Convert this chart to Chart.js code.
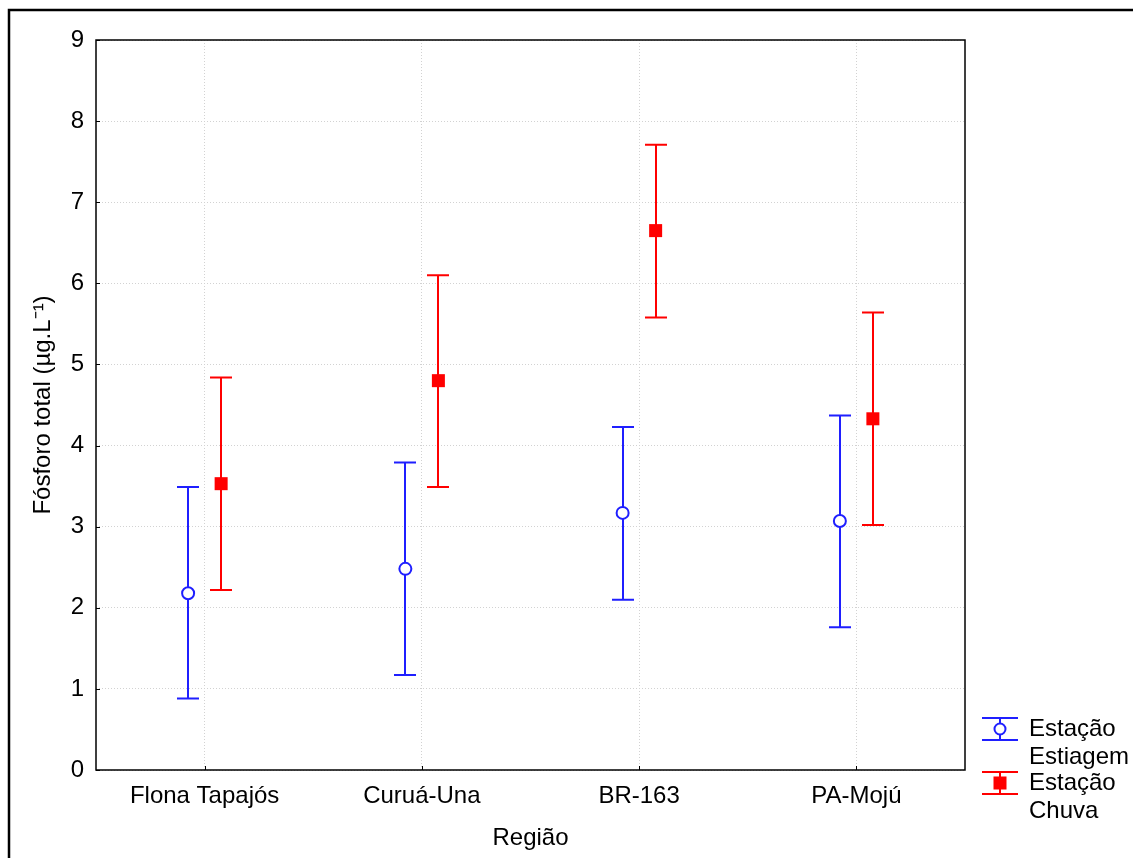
<!DOCTYPE html>
<html>
<head>
<meta charset="utf-8">
<script src="https://cdn.jsdelivr.net/npm/chart.js@4.4.1/dist/chart.umd.min.js"></script>
<style>
  html, body { margin: 0; padding: 0; background: #fff; }
  #wrap { width: 1133px; height: 858px; position: relative; }
</style>
</head>
<body>
<div id="wrap"><canvas id="chart" width="1133" height="858"></canvas></div>
<script>
// Regions along the x axis
const regions = ['Flona Tapajós', 'Curuá-Una', 'BR-163', 'PA-Mojú'];
const yTicks = [0, 1, 2, 3, 4, 5, 6, 7, 8, 9];

// Dry season: mean and interval limits
const estiagemMean = [2.18, 2.48, 3.17, 3.07];
const estiagemLow = [0.88, 1.17, 2.10, 1.76];
const estiagemHigh = [3.49, 3.79, 4.23, 4.37];

// Rainy season: mean and interval limits
const chuvaMean = [3.53, 4.80, 6.65, 4.33];
const chuvaLow = [2.22, 3.49, 5.58, 3.02];
const chuvaHigh = [4.84, 6.10, 7.71, 5.64];

const BLUE = '#1f1fff';
const RED = '#ff0000';
const FONT = 'Liberation Sans, Arial, sans-serif';
const FSIZE = 24;
const shift = 0.076;

const limits = [
    { low: estiagemLow, high: estiagemHigh, color: BLUE },
    { low: chuvaLow, high: chuvaHigh, color: RED }
];

// error bars behind the markers, plot box, outer frame and legend
const errorBars = {
    id: 'errorBars',
    beforeDatasetsDraw(chart) {
        const ctx = chart.ctx;
        const y = chart.scales.y;
        ctx.save();
        limits.forEach((lim, d) => {
            const meta = chart.getDatasetMeta(d);
            ctx.strokeStyle = lim.color;
            ctx.lineWidth = 2;
            meta.data.forEach((pt, i) => {
                const x = Math.round(pt.x);
                const top = y.getPixelForValue(lim.high[i]);
                const bot = y.getPixelForValue(lim.low[i]);
                ctx.beginPath();
                ctx.moveTo(x, top); ctx.lineTo(x, bot);
                ctx.moveTo(x - 11, top); ctx.lineTo(x + 11, top);
                ctx.moveTo(x - 11, bot); ctx.lineTo(x + 11, bot);
                ctx.stroke();
            });
        });
        ctx.restore();
    },
    afterDraw(chart) {
        const ctx = chart.ctx;
        const a = chart.chartArea;
        ctx.save();
        // plot box
        ctx.strokeStyle = '#000';
        ctx.lineWidth = 1.5;
        ctx.strokeRect(a.left, a.top, a.right - a.left, a.bottom - a.top);
        // inner ticks
        ctx.lineWidth = 1;
        yTicks.forEach(v => {
            const py = Math.round(chart.scales.y.getPixelForValue(v)) + 0.5;
            ctx.beginPath(); ctx.moveTo(a.left, py); ctx.lineTo(a.left + 4, py); ctx.stroke();
        });
        regions.forEach((r, i) => {
            const px = Math.round(chart.scales.x.getPixelForValue(i)) + 0.5;
            ctx.beginPath(); ctx.moveTo(px, a.bottom); ctx.lineTo(px, a.bottom - 4); ctx.stroke();
        });
        // outer frame
        ctx.lineWidth = 2.5;
        ctx.beginPath();
        ctx.moveTo(9, chart.height);
        ctx.lineTo(9, 10);
        ctx.lineTo(chart.width, 10);
        ctx.stroke();

        // legend
        const items = [
            { lines: ['Estação', 'Estiagem'], color: BLUE, style: 'circle', y: 729 },
            { lines: ['Estação', 'Chuva'], color: RED, style: 'rect', y: 783 }
        ];
        const lx = 1000;
        items.forEach(it => {
            ctx.strokeStyle = it.color;
            ctx.fillStyle = it.color;
            ctx.lineWidth = 2;
            ctx.beginPath();
            ctx.moveTo(lx, it.y - 11); ctx.lineTo(lx, it.y + 11);
            ctx.moveTo(lx - 18, it.y - 11); ctx.lineTo(lx + 18, it.y - 11);
            ctx.moveTo(lx - 18, it.y + 11); ctx.lineTo(lx + 18, it.y + 11);
            ctx.stroke();
            if (it.style === 'circle') {
                ctx.beginPath();
                ctx.arc(lx, it.y, 5.5, 0, Math.PI * 2);
                ctx.fillStyle = '#fff';
                ctx.fill();
                ctx.stroke();
            } else {
                ctx.fillRect(lx - 6.5, it.y - 6.5, 13, 13);
            }
            ctx.fillStyle = '#000';
            ctx.font = FSIZE + 'px ' + FONT;
            ctx.textBaseline = 'middle';
            ctx.textAlign = 'left';
            it.lines.forEach((t, k) => ctx.fillText(t, 1029, it.y + k * 28));
        });
        ctx.restore();
    }
};

const gridOpts = { color: '#d2d2d2', drawTicks: false, lineWidth: 1 };

new Chart(document.getElementById('chart'), {
    type: 'scatter',
    data: {
        datasets: [
            {
                label: 'Estação Estiagem',
                data: estiagemMean.map((v, i) => ({ x: i - shift, y: v })),
                pointStyle: 'circle',
                pointRadius: 6,
                pointBorderWidth: 2,
                borderColor: BLUE,
                backgroundColor: '#fff'
            },
            {
                label: 'Estação Chuva',
                data: chuvaMean.map((v, i) => ({ x: i + shift, y: v })),
                pointStyle: 'rect',
                pointRadius: 9.2,
                pointBorderWidth: 0,
                borderColor: RED,
                backgroundColor: RED
            }
        ]
    },
    options: {
        responsive: false,
        animation: false,
        layout: { padding: { left: 0, top: 40, right: 168, bottom: 0 } },
        plugins: {
            legend: { display: false },
            tooltip: { enabled: false }
        },
        scales: {
            x: {
                type: 'linear',
                min: -0.5,
                max: 3.5,
                afterBuildTicks: axis => { axis.ticks = regions.map((r, i) => ({ value: i })); },
                afterFit: axis => { axis.height = 88; },
                border: { display: false, dash: [1, 2] },
                grid: gridOpts,
                ticks: {
                    padding: 12,
                    color: '#000',
                    font: { family: FONT, size: FSIZE },
                    callback: v => regions[v]
                },
                title: {
                    display: true,
                    text: 'Região',
                    color: '#000',
                    font: { family: FONT, size: FSIZE },
                    padding: { top: 0, bottom: 5 }
                }
            },
            y: {
                min: 0,
                max: 9,
                afterBuildTicks: axis => { axis.ticks = yTicks.map(v => ({ value: v })); },
                afterFit: axis => { axis.width = 96; },
                border: { display: false, dash: [1, 2] },
                grid: gridOpts,
                ticks: {
                    padding: 12,
                    color: '#000',
                    font: { family: FONT, size: FSIZE }
                },
                title: {
                    display: true,
                    text: 'Fósforo total (µg.L⁻¹)',
                    color: '#000',
                    font: { family: FONT, size: FSIZE },
                    padding: { top: 29, bottom: 0 }
                }
            }
        }
    },
    plugins: [errorBars]
});
</script>
</body>
</html>
